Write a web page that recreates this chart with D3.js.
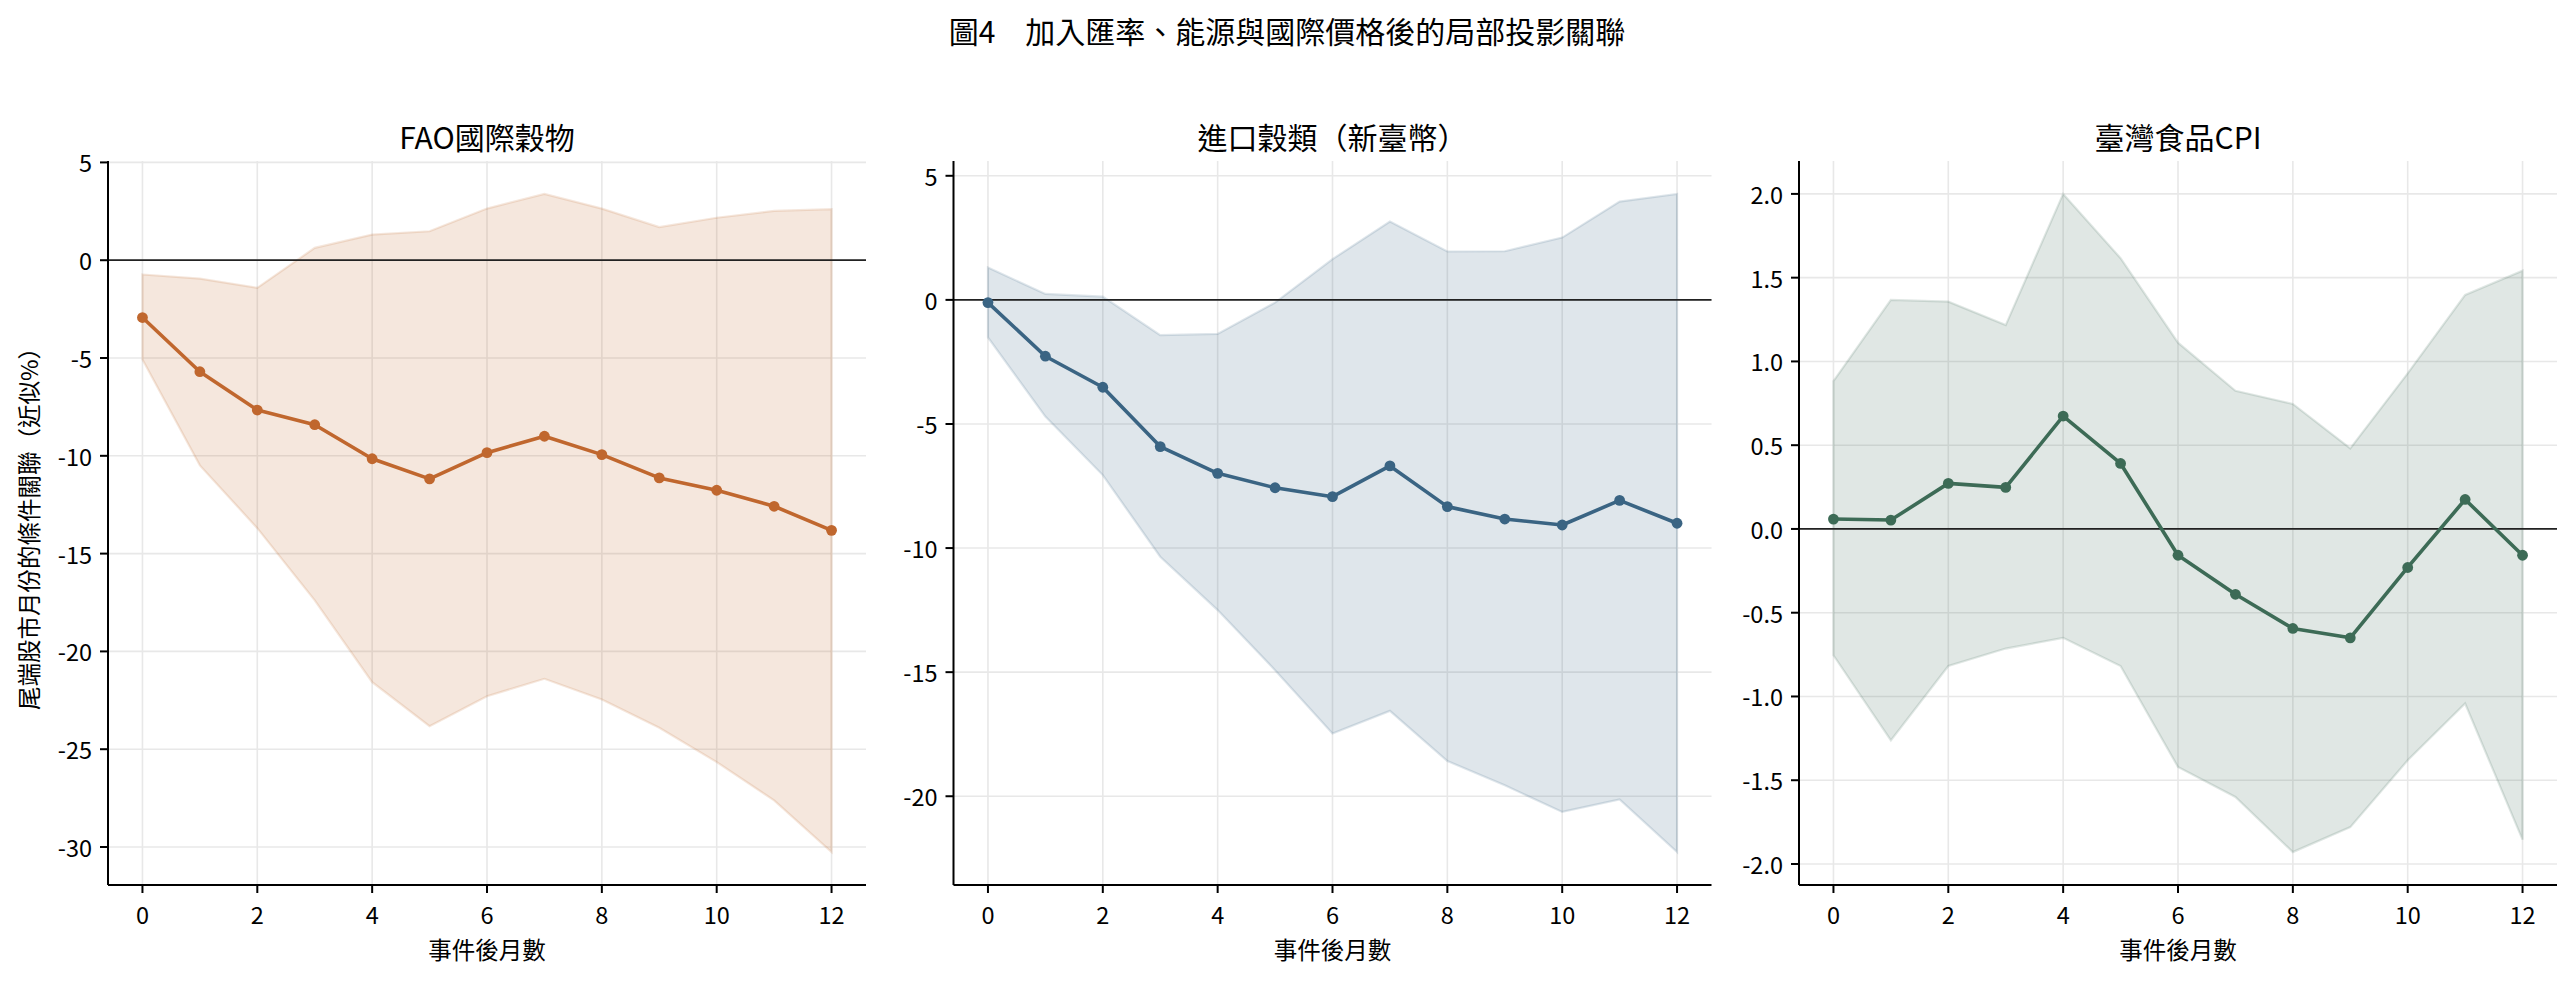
<!DOCTYPE html>
<html lang="zh-Hant">
  <head>
    <meta charset="UTF-8" />
    <title>圖4 加入匯率、能源與國際價格後的局部投影關聯</title>
    <style>
      html, body { margin: 0; padding: 0; background: #fff; }
      svg { display: block; font-family: "Noto Sans CJK TC", "Noto Sans CJK SC", "Noto Sans", sans-serif; }
    </style>
  </head>
  <body>
    <svg></svg>

    <script src="https://d3js.org/d3.v7.min.js"></script>
    <script>
      // months after the event
      const months = [0, 1, 2, 3, 4, 5, 6, 7, 8, 9, 10, 11, 12];
      const xTicks = [0, 2, 4, 6, 8, 10, 12];

      // FAO 國際穀物
      const faoMean = [-2.93, -5.70, -7.66, -8.41, -10.15, -11.18, -9.84, -9.00, -9.94, -11.13, -11.76, -12.58, -13.81];
      const faoUpper = [-0.73, -0.94, -1.41, 0.63, 1.31, 1.48, 2.64, 3.39, 2.64, 1.69, 2.17, 2.52, 2.61];
      const faoLower = [-5.08, -10.49, -13.70, -17.39, -21.57, -23.82, -22.29, -21.40, -22.46, -23.90, -25.66, -27.62, -30.26];
      const faoTicks = [5, 0, -5, -10, -15, -20, -25, -30];

      // 進口穀類（新臺幣）
      const importMean = [-0.11, -2.27, -3.52, -5.91, -6.99, -7.57, -7.93, -6.69, -8.33, -8.83, -9.07, -8.08, -9.00];
      const importUpper = [1.30, 0.24, 0.13, -1.42, -1.37, -0.11, 1.64, 3.16, 1.95, 1.96, 2.51, 3.96, 4.27];
      const importLower = [-1.51, -4.70, -7.06, -10.35, -12.50, -14.92, -17.47, -16.56, -18.58, -19.56, -20.63, -20.13, -22.25];
      const importTicks = [5, 0, -5, -10, -15, -20];

      // 臺灣食品CPI
      const cpiMean = [0.059, 0.053, 0.272, 0.248, 0.674, 0.391, -0.157, -0.39, -0.594, -0.65, -0.23, 0.176, -0.157];
      const cpiUpper = [0.883, 1.367, 1.357, 1.217, 2.0, 1.616, 1.112, 0.825, 0.746, 0.481, 0.929, 1.397, 1.542];
      const cpiLower = [-0.754, -1.262, -0.818, -0.714, -0.65, -0.818, -1.421, -1.6, -1.929, -1.78, -1.381, -1.042, -1.855];
      const cpiTicks = [2.0, 1.5, 1.0, 0.5, 0.0, -0.5, -1.0, -1.5, -2.0];

      const panels = [
        { title: "FAO國際穀物", mean: faoMean, upper: faoUpper, lower: faoLower, ticks: faoTicks, fmt: d3.format("d"), color: "#c0672e" },
        { title: "進口穀類（新臺幣）", mean: importMean, upper: importUpper, lower: importLower, ticks: importTicks, fmt: d3.format("d"), color: "#3a6483" },
        { title: "臺灣食品CPI", mean: cpiMean, upper: cpiUpper, lower: cpiLower, ticks: cpiTicks, fmt: d3.format(".1f"), color: "#3d6b56" },
      ];

      const width = 2574;
      const height = 982;
      const plotTop = 161;
      const plotBottom = 885;
      const plotWidth = 758;
      const panelLeft = [108, 953.5, 1799];
      const tickLen = 8;
      const tickFont = 23.5;
      const titleFont = 30;

      const svg = d3.select("svg").attr("width", width).attr("height", height);

      svg
        .append("text")
        .attr("x", width / 2)
        .attr("y", 30)
        .attr("text-anchor", "middle")
        .attr("dominant-baseline", "central")
        .attr("font-size", titleFont)
        .text("圖4　加入匯率、能源與國際價格後的局部投影關聯");

      panels.forEach((p, i) => {
        const left = panelLeft[i];
        const g = svg.append("g");

        const x = d3
          .scaleLinear()
          .domain([-0.6, 12.6])
          .range([left, left + plotWidth]);

        const lo = d3.min(p.lower);
        const hi = d3.max(p.upper);
        const pad = (hi - lo) * 0.05;
        const y = d3
          .scaleLinear()
          .domain([lo - pad, hi + pad])
          .range([plotBottom, plotTop]);

        // grid
        g.append("g")
          .selectAll("line")
          .data(xTicks)
          .join("line")
          .attr("x1", (d) => x(d))
          .attr("x2", (d) => x(d))
          .attr("y1", plotTop)
          .attr("y2", plotBottom)
          .attr("stroke", "#e8e8e8")
          .attr("stroke-width", 1.6);

        g.append("g")
          .selectAll("line")
          .data(p.ticks)
          .join("line")
          .attr("x1", left)
          .attr("x2", left + plotWidth)
          .attr("y1", (d) => y(d))
          .attr("y2", (d) => y(d))
          .attr("stroke", "#e8e8e8")
          .attr("stroke-width", 1.6);

        // band
        const band = months.map((m, k) => ({ m, lo: p.lower[k], hi: p.upper[k] }));
        const area = d3
          .area()
          .x((d) => x(d.m))
          .y0((d) => y(d.lo))
          .y1((d) => y(d.hi));

        g.append("path")
          .datum(band)
          .attr("d", (d) => area(d) + "Z")
          .attr("fill", p.color)
          .attr("fill-opacity", 0.16)
          .attr("stroke", p.color)
          .attr("stroke-opacity", 0.16)
          .attr("stroke-width", 2.2);

        // zero line
        g.append("line")
          .attr("x1", left)
          .attr("x2", left + plotWidth)
          .attr("y1", y(0))
          .attr("y2", y(0))
          .attr("stroke", "#222")
          .attr("stroke-width", 1.8);

        // mean line
        const pts = months.map((m, k) => ({ m, v: p.mean[k] }));
        g.append("path")
          .datum(pts)
          .attr(
            "d",
            d3
              .line()
              .x((d) => x(d.m))
              .y((d) => y(d.v))
          )
          .attr("fill", "none")
          .attr("stroke", p.color)
          .attr("stroke-width", 3.6)
          .attr("stroke-linejoin", "round");

        g.append("g")
          .selectAll("circle")
          .data(pts)
          .join("circle")
          .attr("cx", (d) => x(d.m))
          .attr("cy", (d) => y(d.v))
          .attr("r", 5.4)
          .attr("fill", p.color);

        // spines
        g.append("line")
          .attr("x1", left)
          .attr("x2", left)
          .attr("y1", plotTop)
          .attr("y2", plotBottom)
          .attr("stroke", "#000")
          .attr("stroke-width", 2);
        g.append("line")
          .attr("x1", left)
          .attr("x2", left + plotWidth)
          .attr("y1", plotBottom)
          .attr("y2", plotBottom)
          .attr("stroke", "#000")
          .attr("stroke-width", 2);

        // x ticks
        const xt = g.append("g").selectAll("g").data(xTicks).join("g");
        xt.append("line")
          .attr("x1", (d) => x(d))
          .attr("x2", (d) => x(d))
          .attr("y1", plotBottom)
          .attr("y2", plotBottom + tickLen)
          .attr("stroke", "#000")
          .attr("stroke-width", 2);
        xt.append("text")
          .attr("x", (d) => x(d))
          .attr("y", plotBottom + tickLen + 21)
          .attr("text-anchor", "middle")
          .attr("dominant-baseline", "central")
          .attr("font-size", tickFont)
          .text((d) => d);

        // y ticks
        const yt = g.append("g").selectAll("g").data(p.ticks).join("g");
        yt.append("line")
          .attr("x1", left - tickLen)
          .attr("x2", left)
          .attr("y1", (d) => y(d))
          .attr("y2", (d) => y(d))
          .attr("stroke", "#000")
          .attr("stroke-width", 2);
        yt.append("text")
          .attr("x", left - tickLen - 8)
          .attr("y", (d) => y(d))
          .attr("text-anchor", "end")
          .attr("dominant-baseline", "central")
          .attr("font-size", tickFont)
          .text((d) => p.fmt(d).replace("−", "-"));

        // titles
        g.append("text")
          .attr("x", left + plotWidth / 2)
          .attr("y", 136)
          .attr("text-anchor", "middle")
          .attr("dominant-baseline", "central")
          .attr("font-size", titleFont)
          .text(p.title);

        g.append("text")
          .attr("x", left + plotWidth / 2)
          .attr("y", 949)
          .attr("text-anchor", "middle")
          .attr("dominant-baseline", "central")
          .attr("font-size", tickFont)
          .text("事件後月數");

        if (i === 0) {
          g.append("text")
            .attr("transform", `translate(28,${(plotTop + plotBottom) / 2}) rotate(-90)`)
            .attr("text-anchor", "middle")
            .attr("dominant-baseline", "central")
            .attr("font-size", tickFont)
            .text("尾端股市月份的條件關聯（近似%）");
        }
      });
    </script>
  </body>
</html>
